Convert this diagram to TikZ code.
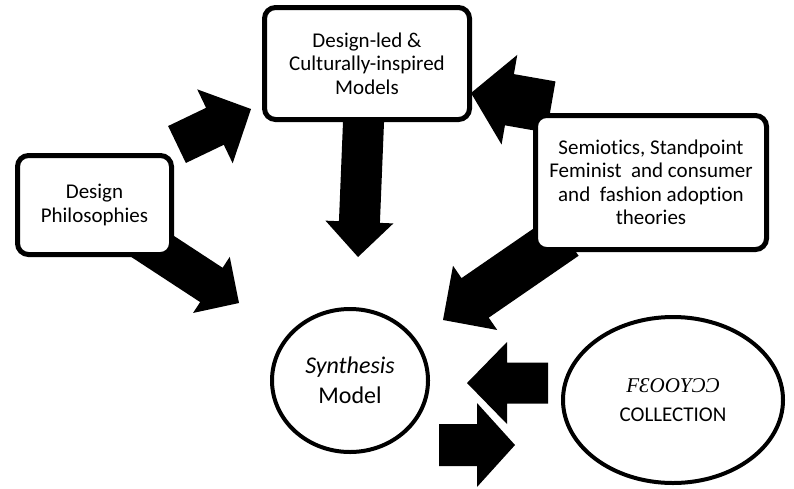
\documentclass[tikz,border=0pt]{standalone}
\usepackage{fontspec}
\setmainfont{Carlito}[Ligatures=NoCommon]
\newfontfamily\brandfont{Liberation Serif}
\usetikzlibrary{shapes.geometric,calc,positioning}

\begin{document}
\begin{tikzpicture}[x=1pt, y=-1pt, thick]
    % Styles
    \tikzstyle{theory_box} = [rectangle, draw, line width=5pt, rounded corners=11pt, fill=white, align=center, inner sep=0pt, font=\fontsize{21}{23.5}\selectfont]
    \tikzstyle{model_oval} = [ellipse, draw, line width=4pt, fill=white, align=center, inner sep=0pt]
    \tikzset{block_arrow/.style n args={3}{to path={let \p1=($(\tikztotarget)!#3!(\tikztostart)$) in
        ($(\tikztostart)!#1!90:(\tikztotarget)$) -- ($(\p1)!#1!-90:(\tikztostart)$) -- ($(\p1)!#2!-90:(\tikztostart)$)
        -- (\tikztotarget) -- ($(\p1)!#2!90:(\tikztostart)$) -- ($(\p1)!#1!90:(\tikztostart)$)
        -- ($(\tikztostart)!#1!-90:(\tikztotarget)$) -- cycle}}}

    \useasboundingbox (0,0) rectangle (794,488);

    % Arrow ends
    \coordinate (phil_up_tail) at (177,144.5);
    \coordinate (phil_up_tip) at (251,109);
    \coordinate (phil_down_tail) at (127.5,230);
    \coordinate (phil_down_tip) at (239,303);
    \coordinate (led_tail) at (364,110);
    \coordinate (led_tip) at (358,257);
    \coordinate (semi_up_tail) at (551,107);
    \coordinate (semi_up_tip) at (471,93);
    \coordinate (semi_down_tail) at (565,236);
    \coordinate (semi_down_tip) at (443,320);
    \coordinate (coll_tail) at (548,383);
    \coordinate (coll_tip) at (467,383);
    \coordinate (synth_tail) at (439,445);
    \coordinate (synth_tip) at (515,445);

    % Block arrows
    \fill (phil_up_tail) to[block_arrow={20.5pt}{41pt}{40pt}] (phil_up_tip);
    \fill (phil_down_tail) to[block_arrow={20.5pt}{33.5pt}{33pt}] (phil_down_tip);
    \fill (led_tail) to[block_arrow={20.5pt}{34pt}{35pt}] (led_tip);
    \fill (semi_up_tail) to[block_arrow={26pt}{45.5pt}{39pt}] (semi_up_tip);
    \fill (semi_down_tail) to[block_arrow={24pt}{39pt}{39pt}] (semi_down_tip);
    \fill (coll_tail) to[block_arrow={20.5pt}{41pt}{40pt}] (coll_tip);
    \fill (synth_tail) to[block_arrow={21pt}{42pt}{38pt}] (synth_tip);

    % Sources
    \node [theory_box, minimum width=154pt, minimum height=99pt] (phil) at (94.5,205) {Design\\Philosophies};
    \node [theory_box, minimum width=205pt, minimum height=112pt] (led) at (367,63.5) {Design-led \&\\Culturally-inspired\\Models};
    \node [theory_box, minimum width=231pt, minimum height=134pt] (semi) at (651,182.5) {Semiotics, Standpoint\\Feminist\ \ and consumer\\and\ \ fashion adoption\\theories};

    % Models
    \node [model_oval, minimum width=156pt, minimum height=143pt, font=\fontsize{24}{30}\selectfont] (synth) at (350,380.5) {\textit{Synthesis}\\Model};
    \node [model_oval, minimum width=220pt, minimum height=166pt, font=\fontsize{21}{29}\selectfont] (coll) at (673,400) {{\brandfont\itshape FƐOOYƆƆ}\\COLLECTION};

\end{tikzpicture}
\end{document}
